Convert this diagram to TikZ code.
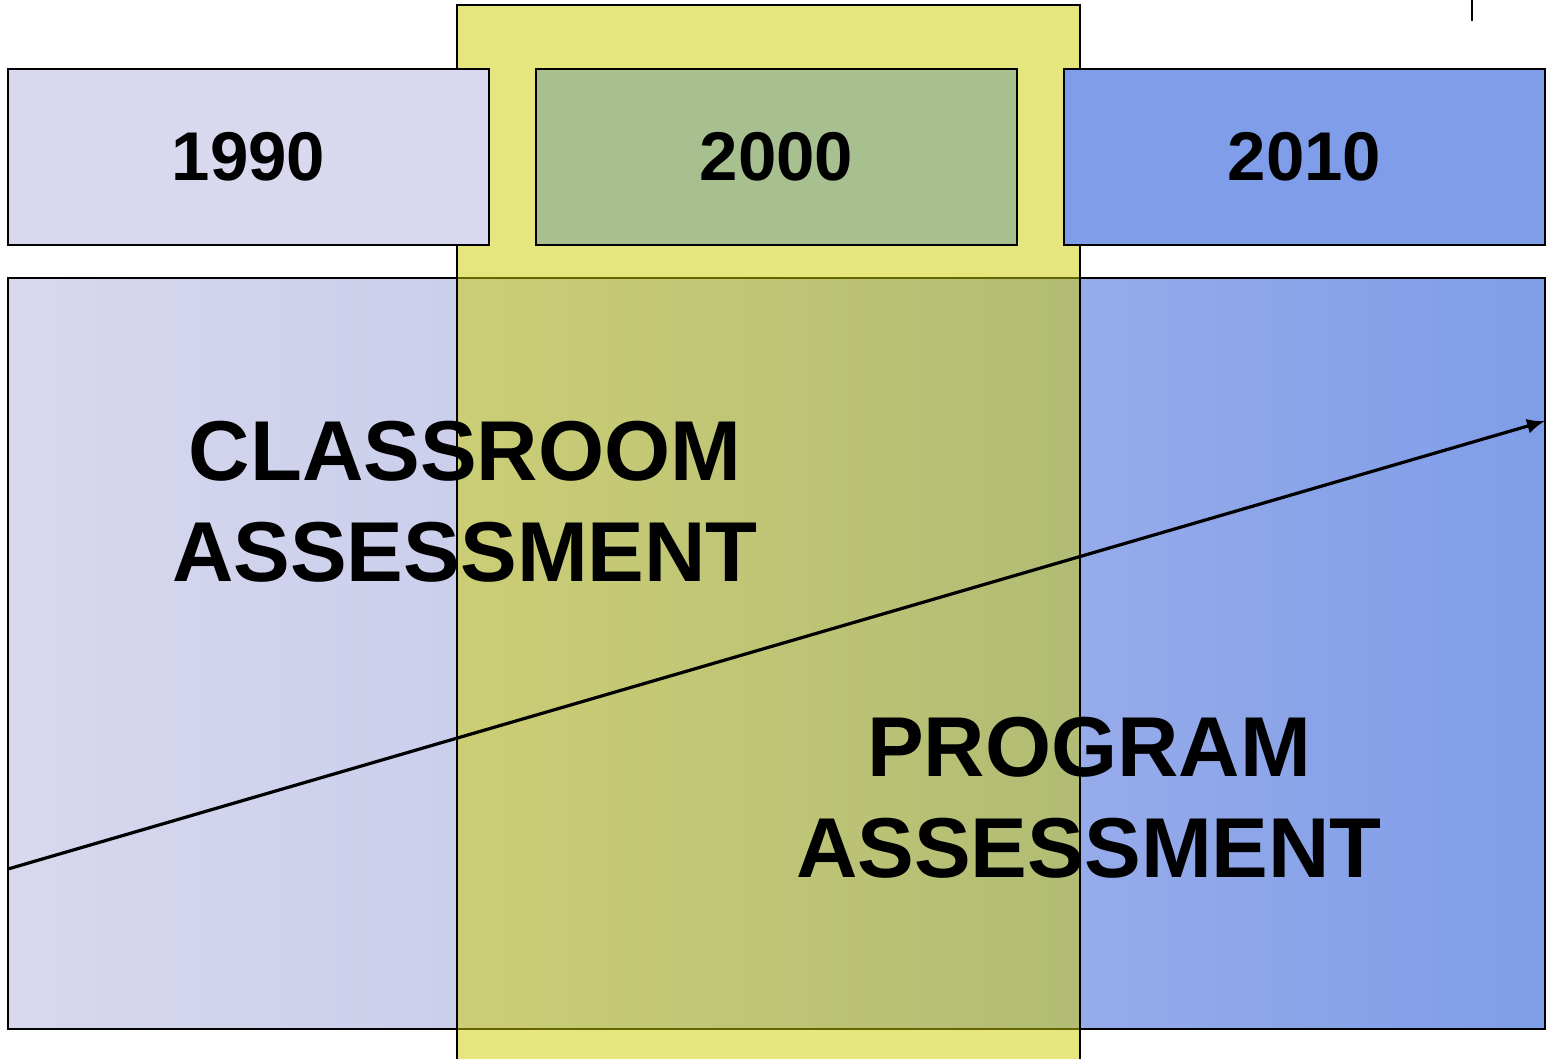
\documentclass[tikz,border=0pt]{standalone}
\usepackage{fontspec}
\setmainfont{Liberation Sans}
\usetikzlibrary{arrows.meta}
\definecolor{lavender}{RGB}{216,216,238}
\definecolor{sage}{RGB}{168,192,144}
\definecolor{cornflower}{RGB}{127,157,232}
\definecolor{olive}{RGB}{205,205,0}
\pgfdeclarehorizontalshading{bandshade}{100bp}{
  color(0bp)=(lavender); color(25bp)=(lavender);
  color(39.6bp)=(rgb,255:red,203;green,207;blue,236);
  color(59.9bp)=(rgb,255:red,150;green,171;blue,234);
  color(75bp)=(cornflower); color(100bp)=(cornflower)}
\begin{document}
\begin{tikzpicture}[x=0.5pt,y=-0.5pt,
        yearbox/.style={draw=black,line width=1pt,minimum width=240.5pt,
            minimum height=88pt,inner sep=0pt,font=\fontsize{34.5}{40}\selectfont\bfseries},
        bigtext/.style={align=center,inner sep=0pt,
            font=\fontsize{42.5}{50.5}\selectfont\bfseries}]
\useasboundingbox (0,0) rectangle (1546,1059);

% background band
\draw[line width=1pt,shading=bandshade] (8,278) rectangle (1545,1029);
\fill[olive,opacity=0.5] (457,5) rectangle (1080,1062);
\draw[line width=1pt] (457,1062) -- (457,5) -- (1080,5) -- (1080,1062);

% year boxes
\node[yearbox,fill=lavender] (y1990) at (248.5,157) {1990};
\node[yearbox,fill=sage] (y2000) at (776.5,157) {2000};
\node[yearbox,fill=cornflower] (y2010) at (1304.5,157) {2010};

\draw[line width=1pt] (1472,0) -- (1472,21);

\node[bigtext] (classroom) at (465,502) {CLASSROOM\\ASSESSMENT};
\node[bigtext] (program) at (1089,798) {PROGRAM\\ASSESSMENT};

\coordinate (arrowstart) at (8,869);
\coordinate (arrowend) at (1545,421);
\draw[-{Latex[length=9pt,width=7.5pt]},line width=1.6pt] (arrowstart) -- (arrowend);

\end{tikzpicture}
\end{document}
